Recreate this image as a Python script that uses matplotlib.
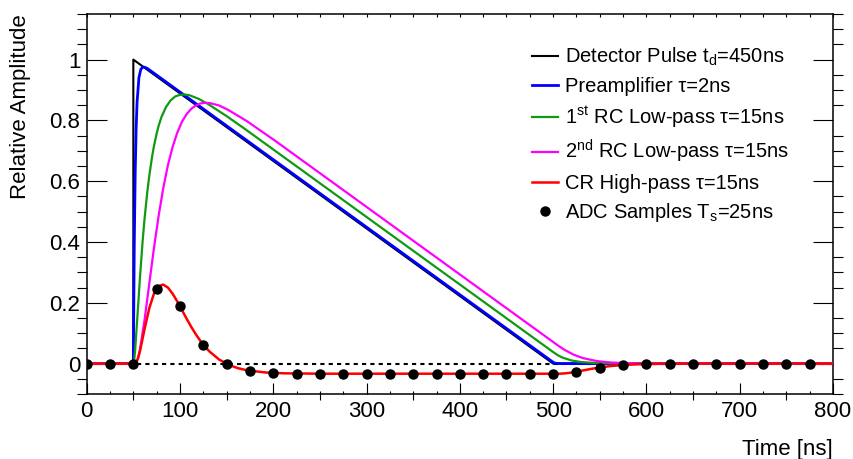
import matplotlib
matplotlib.use("Agg")
import matplotlib.pyplot as plt
from matplotlib.ticker import MultipleLocator, FuncFormatter

plt.rcParams['font.family'] = ['Liberation Sans', 'DejaVu Sans']
plt.rcParams['mathtext.fontset'] = 'custom'
plt.rcParams['mathtext.rm'] = 'Liberation Sans'
plt.rcParams['mathtext.it'] = 'Liberation Sans:italic'

# ---------------- data ----------------
detector_t = [0, 50, 50, 500, 800]
detector_y = [0, 0, 1, 0, 0]

preamp_t = [0, 50, 51, 52, 53, 54, 56, 58, 60, 62, 65, 500, 502, 504, 508, 800]
preamp_y = [0, 0, 0.393, 0.630, 0.774, 0.860, 0.941, 0.968, 0.975, 0.975, 0.971,
            0.0044, 0.0016, 0.0006, 0.0001, 0]

rc1_t = [0, 50, 51, 52, 55, 57, 60, 62, 65, 67, 70, 72, 75, 77, 80, 85, 90, 95, 100,
         105, 110, 120, 130, 150, 170, 500, 505, 510, 520, 530, 545, 560, 590, 800]
rc1_y = [0, 0, 0.014, 0.047, 0.185, 0.279, 0.405, 0.476, 0.566, 0.616, 0.679, 0.714,
         0.757, 0.781, 0.810, 0.844, 0.866, 0.879, 0.884, 0.885, 0.883, 0.871, 0.854,
         0.814, 0.771, 0.038, 0.0275, 0.0197, 0.0101, 0.0052, 0.0019, 0.0007,
         0.0001, 0]

rc2_t = [0, 50, 54, 57, 62, 67, 72, 77, 82, 87, 92, 97, 102, 107, 112, 117, 122, 127,
         132, 142, 152, 172, 202, 502, 507, 512, 522, 532, 547, 562, 582, 602, 800]
rc2_y = [0, 0, 0.008, 0.0445, 0.143, 0.261, 0.378, 0.484, 0.576, 0.652, 0.712, 0.759,
         0.795, 0.820, 0.838, 0.849, 0.856, 0.858, 0.857, 0.849, 0.834, 0.797, 0.733,
         0.0667, 0.0557, 0.0456, 0.0293, 0.018, 0.0083, 0.0037, 0.0012, 0.0004, 0]

cr_t = [0, 50, 52, 55, 57, 62, 67, 72, 77, 82, 87, 92, 97, 102, 107, 112, 117, 122,
        127, 132, 142, 152, 162, 172, 192, 212, 252, 502, 507, 512, 517, 522, 532,
        542, 552, 562, 577, 592, 612, 642, 800]
cr_y = [0, 0, 0, 0.0164, 0.0396, 0.1131, 0.1813, 0.2293, 0.2546, 0.2599, 0.2502,
        0.2304, 0.2048, 0.1766, 0.1482, 0.1211, 0.0963, 0.0742, 0.0550, 0.0387,
        0.0133, -0.0038, -0.0150, -0.0221, -0.0293, -0.0320, -0.0332, -0.0333,
        -0.0332, -0.0323, -0.0307, -0.0283, -0.0226, -0.0167, -0.0118, -0.0079,
        -0.0042, -0.0021, -0.0008, -0.0002, 0]

adc_t = [0, 25, 50, 75, 100, 125, 150, 175, 200, 225, 250, 275, 300, 325, 350, 375,
         400, 425, 450, 475, 500, 525, 550, 575, 600, 625, 650, 675, 700, 725, 750, 775]
adc_y = [0, 0, 0, 0.247, 0.188, 0.062, -0.001, -0.024, -0.031, -0.033, -0.033,
         -0.033, -0.033, -0.033, -0.033, -0.033, -0.033, -0.033, -0.033, -0.033,
         -0.033, -0.027, -0.013, -0.0045, -0.0014, -0.0004, -0.0001, 0, 0, 0, 0, 0]

baseline_t = [0, 800]
baseline_y = [0, 0]

labels = ["Detector Pulse t$_\\mathregular{d}$=450ns",
          "Preamplifier \u03c4=2ns",
          "1$^\\mathregular{st}$ RC Low-pass \u03c4=15ns",
          "2$^\\mathregular{nd}$ RC Low-pass \u03c4=15ns",
          "CR High-pass \u03c4=15ns",
          "ADC Samples T$_\\mathregular{s}$=25ns"]
colors = ["#000000", "#0000ff", "#109a10", "#ff00ff", "#ff0000", "#000000"]

# ---------------- figure ----------------
fig = plt.figure(figsize=(8.54, 4.59), dpi=100)
ax = fig.add_axes([86.7 / 854, 1 - 394 / 459, (833 - 86.7) / 854, (394 - 14) / 459])

ax.plot(baseline_t, baseline_y, color='black', lw=1.5, ls=(0, (2, 2)), zorder=1)
h0, = ax.plot(detector_t, detector_y, color=colors[0], lw=1.5, zorder=2)
h1, = ax.plot(preamp_t, preamp_y, color=colors[1], lw=2.0, zorder=3)
h2, = ax.plot(rc1_t, rc1_y, color=colors[2], lw=1.6, zorder=4)
h3, = ax.plot(rc2_t, rc2_y, color=colors[3], lw=1.6, zorder=5)
h4, = ax.plot(cr_t, cr_y, color=colors[4], lw=1.8, zorder=6)
h5, = ax.plot(adc_t, adc_y, ls='none', marker='o', ms=6.5, color=colors[5], zorder=7)

ax.set_xlim(0, 800)
ax.set_ylim(-0.1, 1.15)

ax.xaxis.set_major_locator(MultipleLocator(100))
ax.xaxis.set_minor_locator(MultipleLocator(50))
ax.yaxis.set_major_locator(MultipleLocator(0.2))
ax.yaxis.set_minor_locator(MultipleLocator(0.05))
ax.yaxis.set_major_formatter(FuncFormatter(lambda v, p: f"{v:g}" if abs(v) > 1e-9 else "0"))

ax.tick_params(direction='in', top=True, right=True, width=0.8, labelsize=16)
ax.tick_params(axis='x', which='major', length=8, pad=5)
ax.tick_params(axis='x', which='minor', length=4.3, width=0.8, top=True)
ax.tick_params(axis='y', which='major', length=14.4, pad=4.5)
ax.tick_params(axis='y', which='minor', length=7.2, width=0.8, right=True)
for s in ax.spines.values():
    s.set_linewidth(1.1)

ax2 = ax.twiny()
ax2.set_xlim(0, 800)
ax2.xaxis.set_major_locator(MultipleLocator(25))
ax2.tick_params(direction='in', top=True, bottom=True, labeltop=False,
                labelbottom=False, length=2.5, width=0.8)
for s in ax2.spines.values():
    s.set_visible(False)

ax.set_xlabel("Time [ns]", fontsize=16, loc='right')
ax.xaxis.set_label_coords(1.0, -0.118)
ax.set_ylabel("Relative Amplitude", fontsize=16, loc='top')
ax.yaxis.set_label_coords(-0.074, 1.0)

ax.legend([h0, h1, h2, h3, h4, h5], labels, loc='upper left',
          bbox_to_anchor=(532 / 854, 1 - 46 / 459), bbox_transform=fig.transFigure,
          frameon=False, fontsize=14.5, handlelength=1.3, handletextpad=0.35,
          labelspacing=0.42, borderpad=0, borderaxespad=0, numpoints=1)

fig.savefig("out.png", dpi=100)
